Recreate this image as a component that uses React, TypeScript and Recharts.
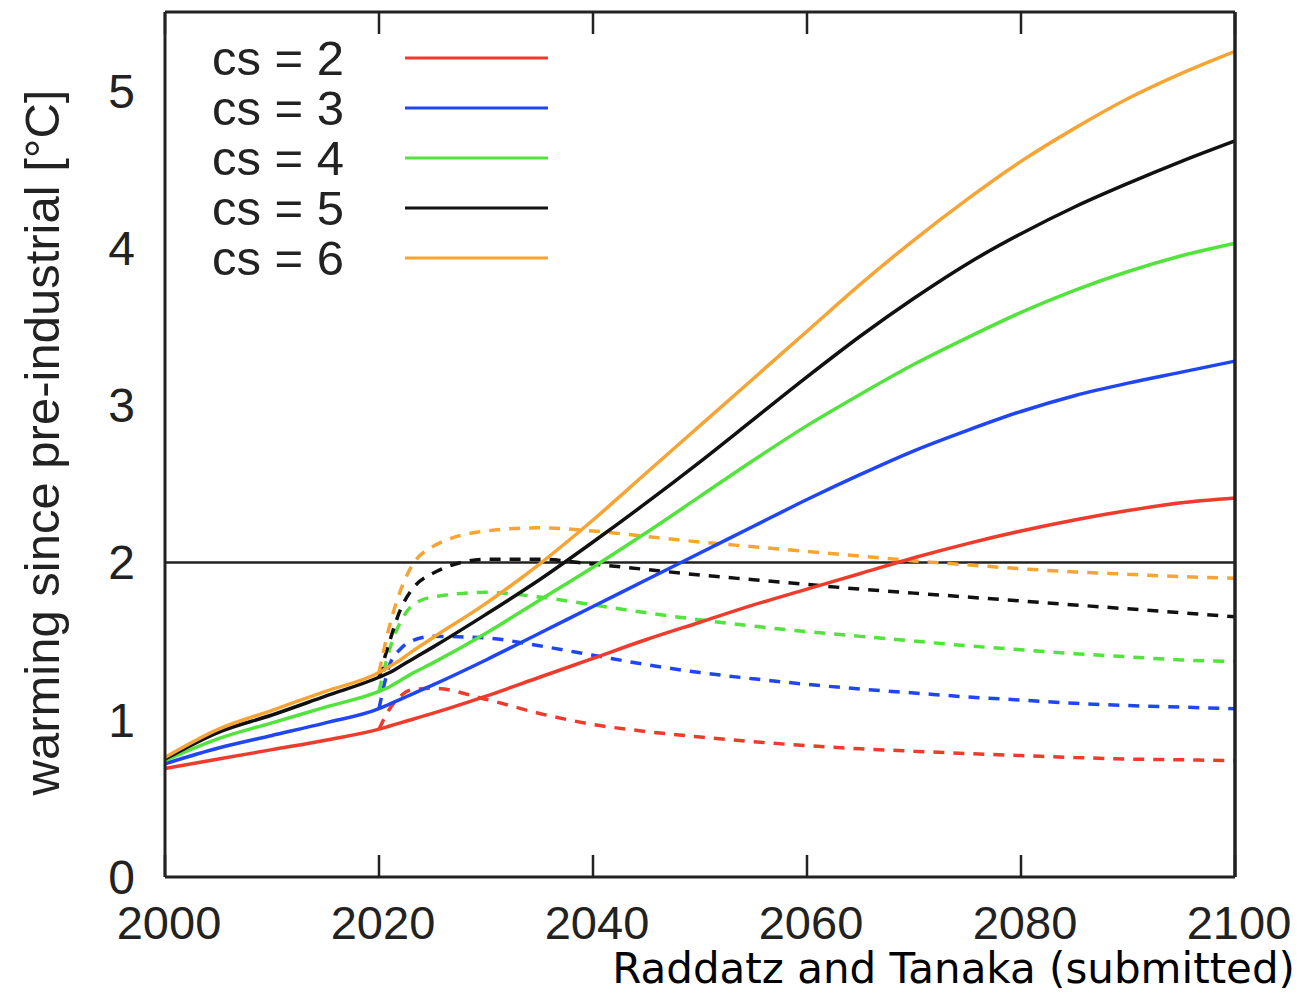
import React from 'react'
import { Legend, Line, LineChart, ReferenceLine, XAxis, YAxis } from 'recharts'

// years sampled, denser around 2020 where the dashed runs start
const years = [
  2000, 2005, 2010, 2015, 2020, 2021, 2022, 2023, 2025, 2030, 2035, 2040, 2045, 2050,
  2055, 2060, 2065, 2070, 2075, 2080, 2085, 2090, 2095, 2100,
]

// solid curves (continued emissions)
const cs2 = [0.69, 0.75, 0.81, 0.87, 0.94, 0.96, 0.98, 1.0, 1.04, 1.15, 1.27, 1.39, 1.51, 1.62, 1.73, 1.83, 1.93, 2.03, 2.12, 2.2, 2.27, 2.33, 2.38, 2.41]
const cs3 = [0.72, 0.82, 0.9, 0.98, 1.07, 1.1, 1.13, 1.16, 1.22, 1.38, 1.55, 1.72, 1.89, 2.06, 2.23, 2.4, 2.56, 2.71, 2.84, 2.96, 3.06, 3.14, 3.21, 3.28]
const cs4 = [0.74, 0.88, 0.98, 1.08, 1.18, 1.21, 1.25, 1.29, 1.36, 1.55, 1.76, 1.97, 2.19, 2.42, 2.65, 2.87, 3.07, 3.26, 3.43, 3.59, 3.73, 3.85, 3.95, 4.03]
const cs5 = [0.75, 0.92, 1.03, 1.15, 1.27, 1.3, 1.34, 1.38, 1.46, 1.67, 1.89, 2.13, 2.38, 2.64, 2.91, 3.18, 3.44, 3.68, 3.9, 4.09, 4.26, 4.41, 4.55, 4.68]
const cs6 = [0.76, 0.94, 1.06, 1.18, 1.3, 1.34, 1.38, 1.43, 1.52, 1.74, 1.99, 2.27, 2.57, 2.87, 3.17, 3.47, 3.77, 4.05, 4.31, 4.55, 4.76, 4.95, 5.11, 5.25]

// dashed curves (emissions stopped in 2020)
const cs2Stop = [null, null, null, null, 0.94, 1.07, 1.15, 1.19, 1.2, 1.13, 1.04, 0.97, 0.925, 0.89, 0.86, 0.835, 0.815, 0.8, 0.785, 0.772, 0.76, 0.75, 0.745, 0.74]
const cs3Stop = [null, null, null, null, 1.07, 1.35, 1.45, 1.5, 1.53, 1.52, 1.47, 1.41, 1.35, 1.3, 1.26, 1.225, 1.195, 1.17, 1.145, 1.125, 1.105, 1.09, 1.08, 1.07]
const cs4Stop = [null, null, null, null, 1.18, 1.45, 1.62, 1.72, 1.78, 1.81, 1.78, 1.73, 1.68, 1.635, 1.595, 1.56, 1.53, 1.5, 1.47, 1.445, 1.42, 1.4, 1.38, 1.37]
const cs5Stop = [null, null, null, null, 1.27, 1.5, 1.7, 1.82, 1.93, 2.02, 2.02, 1.99, 1.955, 1.92, 1.89, 1.86, 1.83, 1.805, 1.78, 1.755, 1.73, 1.705, 1.68, 1.655]
const cs6Stop = [null, null, null, null, 1.3, 1.6, 1.82, 1.97, 2.1, 2.2, 2.22, 2.2, 2.165, 2.13, 2.1, 2.07, 2.04, 2.01, 1.985, 1.96, 1.94, 1.925, 1.91, 1.9]

const xTicks = [2000, 2020, 2040, 2060, 2080, 2100]
const yTicks = [0, 1, 2, 3, 4, 5]

const series = [
  { key: 'cs2', name: 'cs = 2', color: '#ee3b2c', solid: cs2, stop: cs2Stop },
  { key: 'cs3', name: 'cs = 3', color: '#1f46f2', solid: cs3, stop: cs3Stop },
  { key: 'cs4', name: 'cs = 4', color: '#52e33c', solid: cs4, stop: cs4Stop },
  { key: 'cs5', name: 'cs = 5', color: '#111111', solid: cs5, stop: cs5Stop },
  { key: 'cs6', name: 'cs = 6', color: '#f6a534', solid: cs6, stop: cs6Stop },
]

const data = years.map((year, i) => {
  const row: Record<string, number | null> = { year }
  series.forEach((s) => {
    row[s.key] = s.solid[i]
    row[s.key + 'Stop'] = s.stop[i]
  })
  return row
})

const frame = '#222'
const font = "'Liberation Sans', Arial, sans-serif"
const blank = () => ''

const LegendBox = () => (
  <div style={{ fontFamily: font, fontSize: 49, color: '#222' }}>
    {series.map((s) => (
      <div key={s.key} style={{ display: 'flex', alignItems: 'center', height: 50 }}>
        <span style={{ width: 193, lineHeight: '50px' }}>{s.name}</span>
        <svg width={143} height={6}>
          <line x1={0} x2={143} y1={3} y2={3} stroke={s.color} strokeWidth={3} />
        </svg>
      </div>
    ))}
  </div>
)

const YTitle = (props: any) => {
  const { viewBox } = props
  const cx = viewBox.x + 42
  const cy = viewBox.y + viewBox.height / 2 - 2
  return (
    <text
      x={cx}
      y={cy}
      transform={`rotate(-90, ${cx}, ${cy})`}
      textAnchor="middle"
      dominantBaseline="central"
      fontSize={49}
      fontFamily={font}
      fill="#222"
    >
      warming since pre-industrial [°C]
    </text>
  )
}

export default function App() {
  return (
    <div style={{ position: 'absolute', left: 0, top: 0, width: 1300, height: 993, background: '#fff' }}>
      <LineChart
        width={1300}
        height={993}
        data={data}
        margin={{ top: 12, right: 65, left: 0, bottom: 56 }}
        style={{ fontFamily: font }}
      >
        <XAxis
          dataKey="year"
          type="number"
          domain={[2000, 2100]}
          ticks={xTicks}
          height={60}
          tickSize={0}
          tickMargin={29}
          tickLine={false}
          axisLine={{ stroke: frame, strokeWidth: 3 }}
          tick={{ fontSize: 47, fill: '#222', dx: 4 }}
        />
        <XAxis
          xAxisId="bottomIn"
          dataKey="year"
          type="number"
          orientation="bottom"
          mirror
          domain={[2000, 2100]}
          ticks={xTicks}
          tickFormatter={blank}
          tickSize={22}
          axisLine={false}
          tickLine={{ stroke: frame, strokeWidth: 2.5 }}
        />
        <XAxis
          xAxisId="top"
          dataKey="year"
          type="number"
          orientation="top"
          mirror
          domain={[2000, 2100]}
          ticks={xTicks}
          tickFormatter={blank}
          tickSize={22}
          axisLine={{ stroke: frame, strokeWidth: 3 }}
          tickLine={{ stroke: frame, strokeWidth: 2.5 }}
        />
        <YAxis
          type="number"
          domain={[0, 5.5]}
          ticks={yTicks}
          width={165}
          tickSize={0}
          tickMargin={30}
          tickLine={false}
          axisLine={{ stroke: frame, strokeWidth: 3 }}
          tick={{ fontSize: 48, fill: '#222' }}
          label={<YTitle />}
        />
        <YAxis
          yAxisId="leftIn"
          type="number"
          orientation="left"
          mirror
          domain={[0, 5.5]}
          ticks={yTicks}
          tickFormatter={blank}
          tickSize={22}
          axisLine={false}
          tickLine={{ stroke: frame, strokeWidth: 2.5 }}
        />
        <YAxis
          yAxisId="right"
          type="number"
          orientation="right"
          mirror
          domain={[0, 5.5]}
          ticks={yTicks}
          tickFormatter={blank}
          tickSize={22}
          axisLine={{ stroke: frame, strokeWidth: 3.5 }}
          tickLine={{ stroke: frame, strokeWidth: 2.5 }}
        />
        <ReferenceLine y={2} stroke={frame} strokeWidth={2.5} />
        {series.map((s) => (
          <Line
            key={s.key + 'Stop'}
            dataKey={s.key + 'Stop'}
            type="monotone"
            stroke={s.color}
            strokeWidth={3.5}
            strokeDasharray="11 9"
            dot={false}
            activeDot={false}
            legendType="none"
            isAnimationActive={false}
          />
        ))}
        {series.map((s) => (
          <Line
            key={s.key}
            dataKey={s.key}
            name={s.name}
            type="monotone"
            stroke={s.color}
            strokeWidth={3.5}
            dot={false}
            activeDot={false}
            isAnimationActive={false}
          />
        ))}
        <Legend
          layout="vertical"
          align="center"
          verticalAlign="middle"
          wrapperStyle={{ left: 212, top: 33, width: 340 }}
          content={() => <LegendBox />}
        />
      </LineChart>
      <div
        style={{
          position: 'absolute',
          right: 5,
          top: 956,
          fontFamily: "'DejaVu Sans', sans-serif",
          fontSize: 42,
          lineHeight: '26px',
          color: '#000',
          whiteSpace: 'nowrap',
        }}
      >
        Raddatz and Tanaka (submitted)
      </div>
    </div>
  )
}
